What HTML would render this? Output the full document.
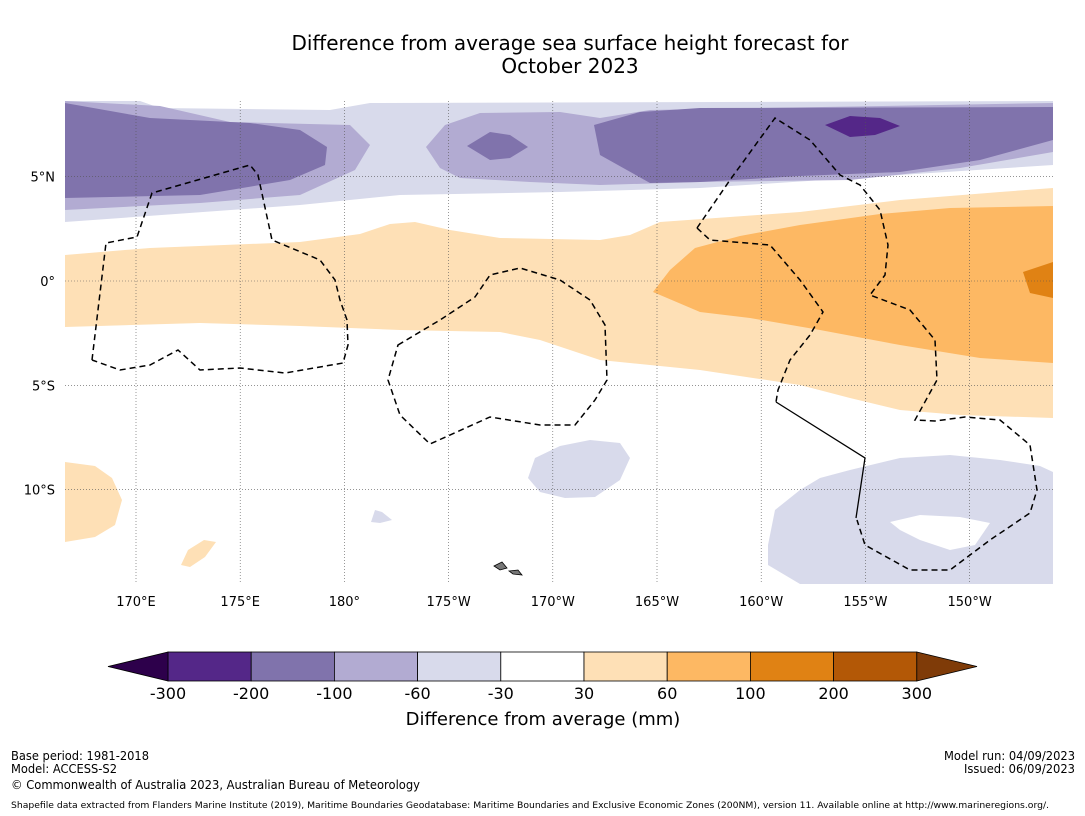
<!DOCTYPE html>
<html><head><meta charset="utf-8"><style>
html,body{margin:0;padding:0;background:#fff;}
svg{display:block;font-family:"DejaVu Sans","Liberation Sans",sans-serif;}
</style></head><body>
<svg id="c" width="1085" height="816" viewBox="0 0 1085 816" xmlns="http://www.w3.org/2000/svg">
<rect width="1085" height="816" fill="#fff"/>
<text x="570" y="50" text-anchor="middle" font-size="20">Difference from average sea surface height forecast for</text>
<text x="570" y="73" text-anchor="middle" font-size="20">October 2023</text>
<defs><clipPath id="mc"><rect x="65" y="101" width="988" height="483"/></clipPath></defs>
<g clip-path="url(#mc)">
<rect x="65" y="101" width="988" height="483" fill="#fff"/>
<path fill="#d8daeb" d="M65,101 L140,101 L160,108 L330,110 L370,103 L1053,101 L1053,165 L900,175 L700,188 L560,192 L400,195 L300,205 L65,222 Z"/>
<path fill="#b2abd2" d="M65,101 L160,106 L230,122 L350,125 L370,145 L355,170 L300,195 L200,203 L65,210 Z M426,147 L445,125 L480,113 L560,112 L600,118 L650,110 L1053,103 L1053,152 L960,168 L850,180 L700,182 L600,185 L530,182 L460,178 L440,168 Z"/>
<path fill="#8073ac" d="M65,103 L150,118 L250,123 L300,130 L327,147 L325,165 L290,180 L200,195 L65,198 Z M467,146 L490,132 L510,135 L528,147 L510,158 L490,160 Z M594,125 L640,112 L700,108 L1053,107 L1053,140 L980,160 L900,172 L800,176 L700,182 L650,183 L600,155 Z"/>
<path fill="#542788" d="M825,125 L850,116 L880,118 L900,126 L875,135 L850,137 Z"/>
<path fill="#fee0b6" d="M65,255 L150,248 L300,242 L360,234 L390,224 L415,222 L450,230 L500,238 L600,240 L630,235 L660,222 L800,212 L900,200 L1000,192 L1053,188 L1053,418 L960,415 L900,410 L850,398 L800,385 L700,370 L600,360 L540,340 L500,332 L400,330 L300,326 L200,323 L65,327 Z M65,462 L95,466 L112,478 L122,500 L115,525 L95,537 L65,542 Z M181,565 L188,550 L204,540 L216,542 L205,557 L190,567 Z"/>
<path fill="#fdb863" d="M653,292 L670,270 L695,248 L740,236 L800,225 L880,214 L950,208 L1053,206 L1053,363 L980,358 L900,345 L820,330 L750,318 L700,312 Z"/>
<path fill="#e08214" d="M1023,272 L1053,262 L1053,298 L1030,293 Z"/>
<path fill="#d8daeb" d="M528,478 L535,458 L560,446 L590,440 L620,443 L630,458 L620,480 L595,497 L565,498 L540,492 Z M371,522 L375,510 L382,512 L392,520 L380,523 Z M768,545 L775,510 L800,490 L820,478 L850,470 L900,458 L950,455 L1000,460 L1040,466 L1053,472 L1053,584 L800,584 L768,565 Z"/>
<path fill="#fff" d="M890,522 L920,515 L960,517 L990,523 L975,545 L950,550 L920,540 L900,530 Z"/>
<g id="grid"></g>
<g fill="none" stroke="#000" stroke-width="1.5" stroke-dasharray="6,4">
<path d="M92,360 L106,243 L137,237 L152,193 L250,165 L258,175 L272,240 L320,260 L335,280 L340,300 L347,320 L348,345 L343,363 L285,373 L240,368 L200,370 L178,350 L150,365 L120,370 L92,360"/>
<path d="M398,345 L440,320 L475,297 L490,275 L520,268 L560,280 L590,300 L605,325 L607,380 L595,400 L575,425 L540,425 L490,417 L430,444 L400,415 L388,380 Z"/>
<path d="M697,228 L730,180 L775,118 L810,140 L840,175 L860,185 L880,210 L888,245 L885,275 L870,295 L910,310 L935,340 L937,380 L915,420 L935,421 L965,417 L1000,420 L1030,445 L1037,490 L1030,513 L990,540 L950,570 L910,570 L865,545 L857,520"/>
<path d="M697,228 L710,240 L770,245 L800,280 L823,312 L810,335 L790,360 L778,390 L776,402"/>
</g>
<path d="M776,402 L865,458 L856,518" fill="none" stroke="#000" stroke-width="1.3"/>
<g fill="#777" stroke="#000" stroke-width="0.8">
<path d="M494,566 L502,562 L507,568 L500,570 Z"/><path d="M509,571 L518,570 L522,575 L513,574 Z"/>
</g>
</g>
<g id="axes" font-size="13"></g>
<g id="cbar"></g>
<text x="543" y="725" text-anchor="middle" font-size="18">Difference from average (mm)</text>
<g font-size="12">
<text x="11" y="760" textLength="138" lengthAdjust="spacingAndGlyphs">Base period: 1981-2018</text>
<text x="11" y="773" textLength="106" lengthAdjust="spacingAndGlyphs">Model: ACCESS-S2</text>
<text x="11" y="789" textLength="409" lengthAdjust="spacingAndGlyphs">© Commonwealth of Australia 2023, Australian Bureau of Meteorology</text>
<text x="1075" y="760" text-anchor="end" textLength="131" lengthAdjust="spacingAndGlyphs">Model run: 04/09/2023</text>
<text x="1075" y="773" text-anchor="end" textLength="111" lengthAdjust="spacingAndGlyphs">Issued: 06/09/2023</text>
<text x="11" y="808" font-size="9" textLength="1038" lengthAdjust="spacingAndGlyphs">Shapefile data extracted from Flanders Marine Institute (2019), Maritime Boundaries Geodatabase: Maritime Boundaries and Exclusive Economic Zones (200NM), version 11. Available online at http://www.marineregions.org/.</text>
</g>
</svg>
<script>
const lonTicks=[170,175,180,185,190,195,200,205,210];
const lonLabels=["170°E","175°E","180°","175°W","170°W","165°W","160°W","155°W","150°W"];
const latTicks=[5,0,-5,-10];
const latLabels=["5°N","0°","5°S","10°S"];
const levels=[-300,-200,-100,-60,-30,30,60,100,200,300];
const levelLabels=["-300","-200","-100","-60","-30","30","60","100","200","300"];
const binColors=["#542788","#8073ac","#b2abd2","#d8daeb","#ffffff","#fee0b6","#fdb863","#e08214","#b35806"];
const NS="http://www.w3.org/2000/svg";
const xLon=l=>136+(l-170)*20.84;
const yLat=l=>281-l*20.86;
const cb0=168,cbW=83.2,cbY=652,cbH=29;
const xCb=i=>cb0+i*cbW;
function mk(t,a,p){const e=document.createElementNS(NS,t);for(const k in a)e.setAttribute(k,a[k]);p.appendChild(e);return e;}
const grid=document.getElementById('grid'),axes=document.getElementById('axes'),cb=document.getElementById('cbar');
lonTicks.forEach((l,i)=>{
 const ln=mk('line',{x1:xLon(l),x2:xLon(l),y1:101,y2:584,stroke:'#555','stroke-width':0.6,'stroke-dasharray':'1,2'},grid);
 
 
 const t=mk('text',{x:xLon(l),y:606,'text-anchor':'middle'},axes);t.textContent=lonLabels[i];
 
 
});
latTicks.forEach((l,i)=>{
 const ln=mk('line',{x1:65,x2:1053,y1:yLat(l),y2:yLat(l),stroke:'#555','stroke-width':0.6,'stroke-dasharray':'1,2'},grid);
 
 
 const t=mk('text',{x:55,y:yLat(l)+5,'text-anchor':'end'},axes);t.textContent=latLabels[i];
 
 
});
binColors.forEach((c,i)=>{
 const r=mk('rect',{x:xCb(i),y:cbY,width:cbW,height:cbH,fill:c,stroke:'#000','stroke-width':0.8},cb);
 
 
});
const lo=mk('polygon',{points:`${xCb(0)},${cbY} ${xCb(0)},${cbY+cbH} 108,${cbY+cbH/2}`,fill:'#2d004b',stroke:'#000','stroke-width':0.8},cb);


const n=binColors.length;
const hi=mk('polygon',{points:`${xCb(n)},${cbY} ${xCb(n)},${cbY+cbH} 977,${cbY+cbH/2}`,fill:'#7f3b08',stroke:'#000','stroke-width':0.8},cb);


levels.forEach((v,i)=>{
 const t=mk('text',{x:xCb(i),y:699,'text-anchor':'middle','font-size':16},cb);t.textContent=levelLabels[i];
 
 
});
</script>
</body></html>
